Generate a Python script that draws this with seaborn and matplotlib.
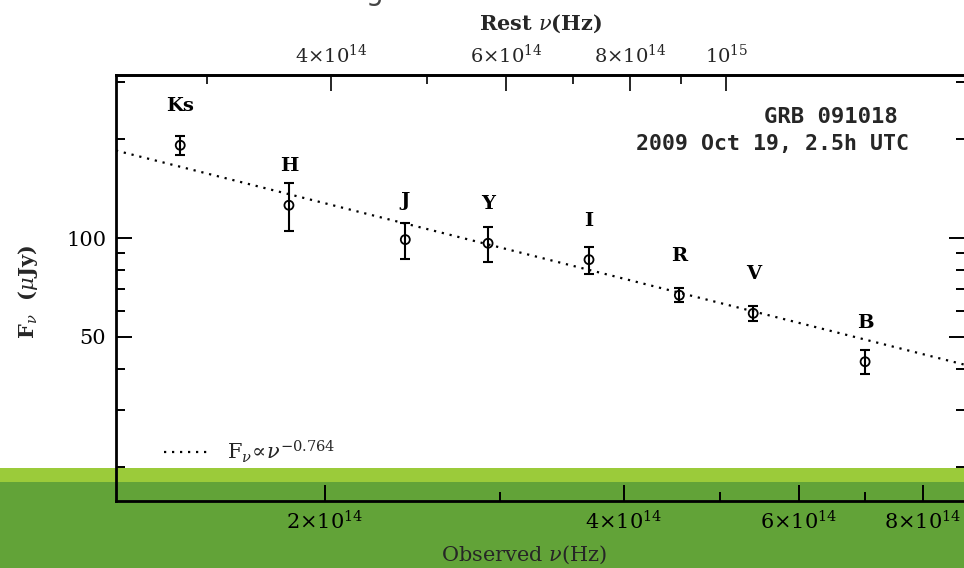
import numpy as np
import pandas as pd
import matplotlib
matplotlib.use("Agg")
import matplotlib.pyplot as plt
from matplotlib.patches import Rectangle
from matplotlib.lines import Line2D
from matplotlib.ticker import FixedLocator, FixedFormatter, NullFormatter
import seaborn as sns

# ---------------- data ----------------
bands = ["Ks", "H", "J", "Y", "I", "R", "V", "B"]
nu_obs = [1.43e14, 1.84e14, 2.41e14, 2.92e14, 3.69e14, 4.55e14, 5.40e14, 7.00e14]   # Hz
flux = [192, 126, 99, 96.5, 86, 67, 59, 42]                                          # microJy
flux_err = [13, 21, 12.5, 12, 8, 3.3, 3, 3.6]

redshift = 0.971          # rest = observed * (1+z)
fit_index = -0.764        # F_nu ∝ nu^-0.764
fit_norm = 217.0          # microJy at nu = 1e14 Hz

x_ticks = [2e14, 4e14, 6e14, 8e14]
x_ticklabels = [r"$2{\times}10^{14}$", r"$4{\times}10^{14}$", r"$6{\times}10^{14}$", r"$8{\times}10^{14}$"]
x_minor = [3e14, 5e14, 7e14]
top_ticks = [4e14, 6e14, 8e14, 1e15]
top_ticklabels = [r"$4{\times}10^{14}$", r"$6{\times}10^{14}$", r"$8{\times}10^{14}$", r"$10^{15}$"]
top_minor = [3e14, 5e14, 7e14, 9e14]
y_ticks = [50, 100]
y_ticklabels = ["50", "100"]
y_minor = [20, 30, 40, 60, 70, 80, 90, 200, 300]

df = pd.DataFrame({"band": bands, "nu": nu_obs, "flux": flux, "err": flux_err})

# ---------------- style ----------------
sns.set_theme(style="ticks")
plt.rcParams["font.family"] = ["DejaVu Serif", "DejaVu Sans"]
plt.rcParams["mathtext.fontset"] = "dejavuserif"

fig = plt.figure(figsize=(9.64, 5.68), dpi=100)
fig.patch.set_facecolor("white")

# slide background band at the bottom
fig.patches.append(Rectangle((0, 0), 1, 0.1514, transform=fig.transFigure,
                             facecolor="#62a338", edgecolor="none", zorder=-2))
fig.patches.append(Rectangle((0, 0.1514), 1, 0.0246, transform=fig.transFigure,
                             facecolor="#9bcb3a", edgecolor="none", zorder=-2))
# cut-off slide title fragment (only its descender shows in the reference)
fig.text(374 / 964, 1.0, "g", fontsize=20, color="#444444",
         family="DejaVu Sans", va="baseline", ha="center")

ax = fig.add_axes([0.1203, 0.118, 0.881, 0.750])
ax.set_facecolor("none")
ax.set_xscale("log")
ax.set_yscale("log")
ax.set_xlim(1.232e14, 8.83e14)
ax.set_ylim(15.8, 314.5)

# power-law fit line
nu_line = np.geomspace(ax.get_xlim()[0], ax.get_xlim()[1], 50)
fit_df = pd.DataFrame({"nu": nu_line, "F": fit_norm * (nu_line / 1e14) ** fit_index})
sns.lineplot(data=fit_df, x="nu", y="F", ax=ax, color="black", lw=1.6,
             linestyle=(0, (1, 2.6)), legend=False, zorder=2)

# error bars and points
ax.errorbar(df["nu"], df["flux"], yerr=df["err"], fmt="none", ecolor="black",
            elinewidth=1.5, capsize=3.6, capthick=1.5, zorder=3)
sns.scatterplot(data=df, x="nu", y="flux", ax=ax, marker="o", s=42,
                facecolors="none", edgecolor="black", linewidth=1.3, zorder=4, legend=False)

for b, n, f in zip(bands, nu_obs, flux):
    ax.annotate(b, (n, f), xytext=(0, 28), textcoords="offset points",
                ha="center", va="center", fontsize=14, fontweight="bold", color="black")

ax.text(0.921, 0.902, "GRB 091018", transform=ax.transAxes, ha="right", va="center",
        fontsize=16, family="DejaVu Sans Mono", fontweight="bold")
ax.text(0.934, 0.838, "2009 Oct 19, 2.5h UTC", transform=ax.transAxes, ha="right", va="center",
        fontsize=15.5, family="DejaVu Sans Mono", fontweight="bold")

# legend
handle = Line2D([], [], color="black", lw=1.6, linestyle=(0, (1, 2.6)))
ax.legend([handle], [r"F$_\nu\!\propto\!\nu^{-0.764}$"], loc="lower left",
          bbox_to_anchor=(0.035, 0.04), frameon=False, fontsize=15,
          handlelength=2.3, handletextpad=0.7)

# axes / ticks
ax.xaxis.set_major_locator(FixedLocator(x_ticks))
ax.xaxis.set_major_formatter(FixedFormatter(x_ticklabels))
ax.xaxis.set_minor_locator(FixedLocator(x_minor))
ax.xaxis.set_minor_formatter(NullFormatter())
ax.yaxis.set_major_locator(FixedLocator(y_ticks))
ax.yaxis.set_major_formatter(FixedFormatter(y_ticklabels))
ax.yaxis.set_minor_locator(FixedLocator(y_minor))
ax.yaxis.set_minor_formatter(NullFormatter())

ax.tick_params(which="both", direction="in", top=False, right=True, colors="black",
               labelsize=15, width=1.4)
ax.tick_params(which="major", length=11.5, pad=7)
ax.tick_params(which="minor", length=6.5)
for s in ax.spines.values():
    s.set_linewidth(2.0)
    s.set_color("black")

ax.set_xlabel(r"Observed $\nu$(Hz)", fontsize=15)
ax.xaxis.set_label_coords(0.48, -0.1)
ax.set_ylabel(r"F$_\nu$  ($\mu$Jy)", fontsize=15, fontweight="bold")
ax.yaxis.set_label_coords(-0.09, 0.49)

sec = ax.secondary_xaxis("top", functions=(lambda x: x * (1 + redshift), lambda x: x / (1 + redshift)))
sec.xaxis.set_major_locator(FixedLocator(top_ticks))
sec.xaxis.set_major_formatter(FixedFormatter(top_ticklabels))
sec.xaxis.set_minor_locator(FixedLocator(top_minor))
sec.xaxis.set_minor_formatter(NullFormatter())
sec.tick_params(which="both", direction="in", width=1.4, labelsize=14)
sec.tick_params(which="major", length=11.5, pad=6)
sec.tick_params(which="minor", length=6.5)
sec.spines["top"].set_linewidth(2.0)
sec.set_xlabel(r"Rest $\nu$(Hz)", fontsize=15, fontweight="bold", labelpad=10)

fig.savefig("out.png", dpi=100)
